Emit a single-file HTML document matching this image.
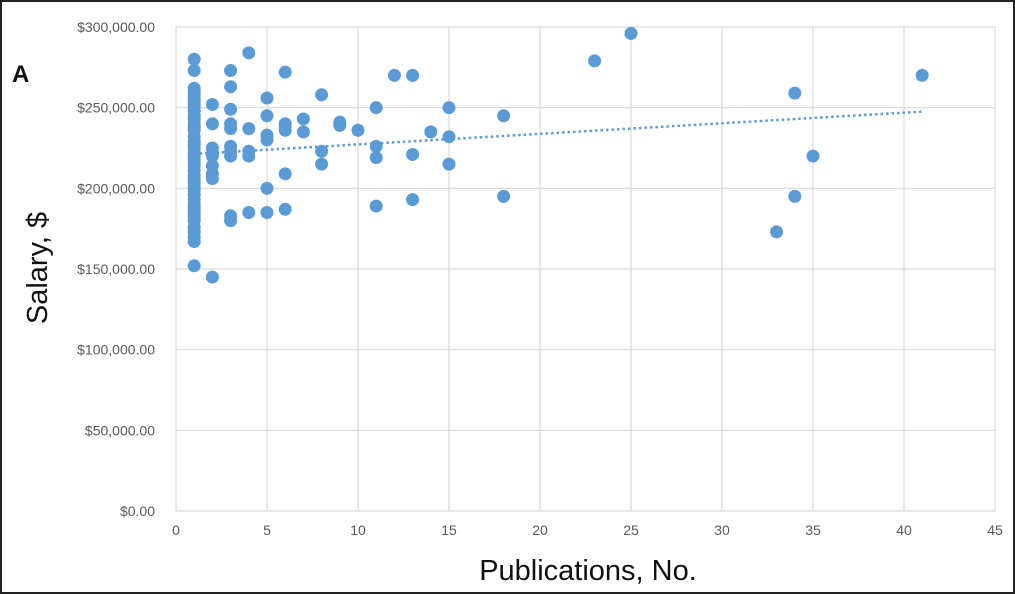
<!DOCTYPE html>
<html><head><meta charset="utf-8"><style>
body{margin:0;background:#fff;}
svg{display:block;font-family:"Liberation Sans",sans-serif;}
</style></head><body>
<svg id="chart" width="1015" height="594">
<rect x="1" y="1" width="1013" height="592" fill="#fff" stroke="#222" stroke-width="2"/>
<text x="12" y="82" font-size="24" font-weight="bold" fill="#111">A</text>
<g id="grid"></g><g id="ticks"></g><g id="pts"></g><g id="trend"></g>
<text transform="translate(47,268) rotate(-90)" text-anchor="middle" font-size="29" fill="#111">Salary, $</text>
<text x="588" y="580" text-anchor="middle" font-size="29" fill="#111">Publications, No.</text>
</svg>
<script>
const xTicks=[0,5,10,15,20,25,30,35,40,45];
const yTicks=[0,50000,100000,150000,200000,250000,300000];
const pubs=[1,1,1,1,1,1,1,1,1,1,1,1,1,1,1,1,1,1,1,1,1,1,1,1,1,1,1,1,1,1,1,1,1,1,1,1,1,1,1,1,1,1,1,
2,2,2,2,2,2,2,2,2,3,3,3,3,3,3,3,3,3,3,4,4,4,4,4,5,5,5,5,5,5,6,6,6,6,6,6,7,7,8,8,8,9,9,10,11,11,11,11,12,13,13,13,14,15,15,15,18,18,23,25,33,34,34,35,41];
const salaryK=[280,273,262,260,258,256,254,252,250,248,245,243,240,238,236,232,229,227,225,222,220,218,216,214,211,208,206,204,201,199,196,193,190,188,186,184,182,180,176,173,170,167,152,
252,240,225,222,220,214,209,206,145,273,263,249,240,237,226,223,220,183,180,284,237,223,220,185,256,245,233,230,200,185,272,240,238,236,209,187,243,235,258,223,215,241,239,236,250,226,219,189,270,270,221,193,235,250,232,215,245,195,279,296,173,259,195,220,270];
const L=176,R=995,T=27,B=511;
const sx=v=>L+(v-0)/45*(R-L);
const sy=v=>B-v/300000*(B-T);
const NS="http://www.w3.org/2000/svg";
function mk(tag,attrs,parent){const e=document.createElementNS(NS,tag);for(const k in attrs)e.setAttribute(k,attrs[k]);parent.appendChild(e);return e;}
const grid=document.getElementById('grid'),ticks=document.getElementById('ticks'),pts=document.getElementById('pts'),trend=document.getElementById('trend');
yTicks.forEach(v=>{
 const l=mk('line',{x1:L,x2:R,y1:sy(v),y2:sy(v),stroke:'#d9d9d9','stroke-width':1.2},grid);
 
 
 const t=mk('text',{x:L-21,y:sy(v)+5,'text-anchor':'end','font-size':14,fill:'#595959'},ticks);
 t.textContent='$'+v.toLocaleString('en-US',{minimumFractionDigits:2});
 
 
});
xTicks.forEach(v=>{
 const l=mk('line',{x1:sx(v),x2:sx(v),y1:T,y2:B,stroke:'#d9d9d9','stroke-width':1.2},grid);
 
 
 const t=mk('text',{x:sx(v),y:B+24,'text-anchor':'middle','font-size':14,fill:'#595959'},ticks);
 t.textContent=v;
 
 
});
pubs.forEach((p,i)=>{
 const c=mk('circle',{cx:sx(p),cy:sy(salaryK[i]*1000),r:6.5,fill:'#5b9bd5'},pts);
 
 
});
const n=pubs.length;let mx=0,my=0;pubs.forEach((p,i)=>{mx+=p;my+=salaryK[i]*1000;});mx/=n;my/=n;
let sxy=0,sxx=0;pubs.forEach((p,i)=>{sxy+=(p-mx)*(salaryK[i]*1000-my);sxx+=(p-mx)*(p-mx);});
const slope=sxy/sxx,ic=my-slope*mx;
const xmin=Math.min(...pubs),xmax=Math.max(...pubs);
const tl=mk('line',{x1:sx(xmin),y1:sy(ic+slope*xmin),x2:sx(xmax),y2:sy(ic+slope*xmax),stroke:'#5b9bd5','stroke-width':2.5,'stroke-dasharray':'2.5 3'},trend);


</script>
</body></html>
